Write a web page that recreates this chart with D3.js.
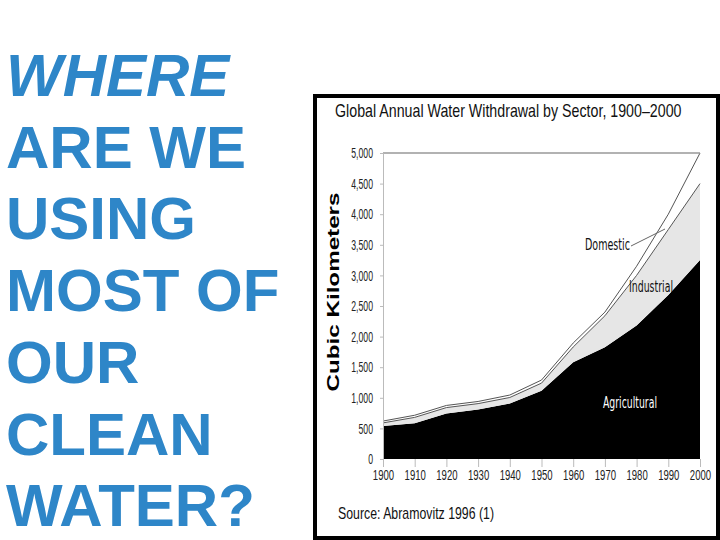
<!DOCTYPE html>
<html>
<head>
<meta charset="utf-8">
<script src="https://cdn.jsdelivr.net/npm/d3@7"></script>
<style>
  body { margin: 0; background: #fff; }
  svg { display: block; }
</style>
</head>
<body>
<svg width="720" height="540"></svg>
<script>
// question text on the left of the slide
var questionLines = ['WHERE', 'ARE WE', 'USING', 'MOST OF', 'OUR', 'CLEAN', 'WATER?'];

// chart data, cubic kilometers per sector
var years = [1900, 1910, 1920, 1930, 1940, 1950, 1960, 1970, 1980, 1990, 2000];
var agricultural = [540, 585, 745, 810, 905, 1115, 1580, 1825, 2180, 2680, 3250];
var industrial   = [50, 95, 95, 95, 100, 125, 250, 515, 820, 1070, 1250];
var domestic     = [30, 35, 35, 35, 40, 50, 65, 60, 150, 250, 500];
var yTicks = [0, 500, 1000, 1500, 2000, 2500, 3000, 3500, 4000, 4500, 5000];

var svg = d3.select('svg');

// text with a horizontal scale, to look like the condensed font of the scan
function narrowText(px, py, sx, str) {
    return svg.append('text')
        .attr('transform', 'translate(' + px + ',' + py + ') scale(' + sx + ',1)')
        .text(str);
}

// left side question
svg.append('g').selectAll('text')
    .data(questionLines)
    .enter()
    .append('text')
    .attr('x', 6)
    .attr('y', function(d, i) { return 96 + i * 71.7; })
    .style('font-family', 'Liberation Sans, Arial, sans-serif')
    .style('font-weight', 'bold')
    .style('font-size', '60px')
    .style('font-style', function(d, i) { return i === 0 ? 'italic' : 'normal'; })
    .attr('fill', '#2e86c8')
    .text(function(d) { return d; });

// picture frame
svg.append('rect')
    .attr('x', 315).attr('y', 96)
    .attr('width', 403).attr('height', 442)
    .attr('fill', '#fff')
    .attr('stroke', '#000')
    .attr('stroke-width', 4);

var x = d3.scaleLinear().domain([1900, 2000]).range([383, 700]);
var y = d3.scaleLinear().domain([0, 5000]).range([459, 153]);

var rows = years.map(function(yr, i) {
    return {year: yr, agricultural: agricultural[i], industrial: industrial[i], domestic: domestic[i]};
});
var keys = ['agricultural', 'industrial', 'domestic'];
var fills = {agricultural: '#000', industrial: '#e6e6e6', domestic: '#fff'};
var series = d3.stack().keys(keys)(rows);

var area = d3.area()
    .x(function(d) { return x(d.data.year); })
    .y0(function(d) { return y(d[0]); })
    .y1(function(d) { return y(d[1]); });

var chartG = svg.append('g');

chartG.selectAll('path.area')
    .data(series)
    .enter()
    .append('path')
    .attr('class', 'area')
    .attr('d', area)
    .attr('fill', function(d) { return fills[d.key]; });

// thin lines on top of industrial and domestic bands
var topLine = d3.line()
    .x(function(d) { return x(d.data.year); })
    .y(function(d) { return y(d[1]); });

chartG.selectAll('path.edge')
    .data(series.slice(1))
    .enter()
    .append('path')
    .attr('class', 'edge')
    .attr('d', topLine)
    .attr('fill', 'none')
    .attr('stroke', '#555')
    .attr('stroke-width', 1);

// top border line at 5,000
chartG.append('line')
    .attr('x1', x(1900)).attr('x2', x(2000))
    .attr('y1', y(5000)).attr('y2', y(5000))
    .attr('stroke', '#999')
    .attr('stroke-width', 1.5);

// y axis
var yAxis = d3.axisLeft(y)
    .tickValues(yTicks)
    .tickFormat(d3.format(','))
    .tickSize(3)
    .tickPadding(7);
var yG = svg.append('g')
    .attr('transform', 'translate(' + x(1900) + ',0)')
    .call(yAxis);
yG.select('.domain').attr('stroke', '#bbb');
yG.selectAll('.tick line').attr('stroke', '#bbb');
yG.selectAll('text')
    .style('font-family', 'Liberation Sans, Arial, sans-serif')
    .style('font-size', '14.5px')
    .attr('fill', '#222')
    .attr('x', -10 / 0.6)
    .attr('transform', 'scale(0.6,1)');

// x axis
var xAxis = d3.axisBottom(x)
    .tickValues(years)
    .tickFormat(d3.format('d'))
    .tickSize(8)
    .tickPadding(3);
var xG = svg.append('g')
    .attr('transform', 'translate(0,' + y(0) + ')')
    .call(xAxis);
xG.select('.domain').remove();
xG.selectAll('.tick line').attr('stroke', '#bbb');
xG.selectAll('text')
    .style('font-family', 'Liberation Sans, Arial, sans-serif')
    .style('font-size', '14.5px')
    .attr('fill', '#222')
    .attr('transform', 'scale(0.66,1)');

// chart title
narrowText(335, 117, 0.79, 'Global Annual Water Withdrawal by Sector, 1900\u20132000')
    .style('font-family', 'Liberation Sans, Arial, sans-serif')
    .style('font-size', '18px')
    .attr('fill', '#111');

// y axis title
svg.append('text')
    .attr('transform', 'translate(339,292) rotate(-90)')
    .attr('text-anchor', 'middle')
    .style('font-family', 'Liberation Sans, Arial, sans-serif')
    .style('font-weight', 'bold')
    .style('font-size', '17px')
    .attr('fill', '#000')
    .attr('textLength', 199)
    .attr('lengthAdjust', 'spacingAndGlyphs')
    .text('Cubic Kilometers');

// source note
svg.append('text')
    .attr('x', 338).attr('y', 519)
    .style('font-family', 'Liberation Sans, Arial, sans-serif')
    .style('font-size', '17px')
    .attr('fill', '#111')
    .attr('textLength', 156)
    .attr('lengthAdjust', 'spacingAndGlyphs')
    .text('Source: Abramovitz 1996 (1)');

// sector labels
var labelFont = 'DejaVu Sans, Liberation Sans, sans-serif';
svg.append('text')
    .attr('x', 585).attr('y', 250)
    .style('font-family', labelFont)
    .style('font-size', '15px')
    .attr('fill', '#111')
    .attr('textLength', 45)
    .attr('lengthAdjust', 'spacingAndGlyphs')
    .text('Domestic');

svg.append('line')
    .attr('x1', 631).attr('y1', 246)
    .attr('x2', 665).attr('y2', 229)
    .attr('stroke', '#666')
    .attr('stroke-width', 1);

svg.append('text')
    .attr('x', 629).attr('y', 292)
    .style('font-family', labelFont)
    .style('font-size', '15px')
    .attr('fill', '#111')
    .attr('textLength', 44)
    .attr('lengthAdjust', 'spacingAndGlyphs')
    .text('Industrial');

svg.append('text')
    .attr('x', 603).attr('y', 408)
    .style('font-family', labelFont)
    .style('font-size', '16px')
    .attr('fill', '#fff')
    .attr('textLength', 54)
    .attr('lengthAdjust', 'spacingAndGlyphs')
    .text('Agricultural');
</script>
</body>
</html>
